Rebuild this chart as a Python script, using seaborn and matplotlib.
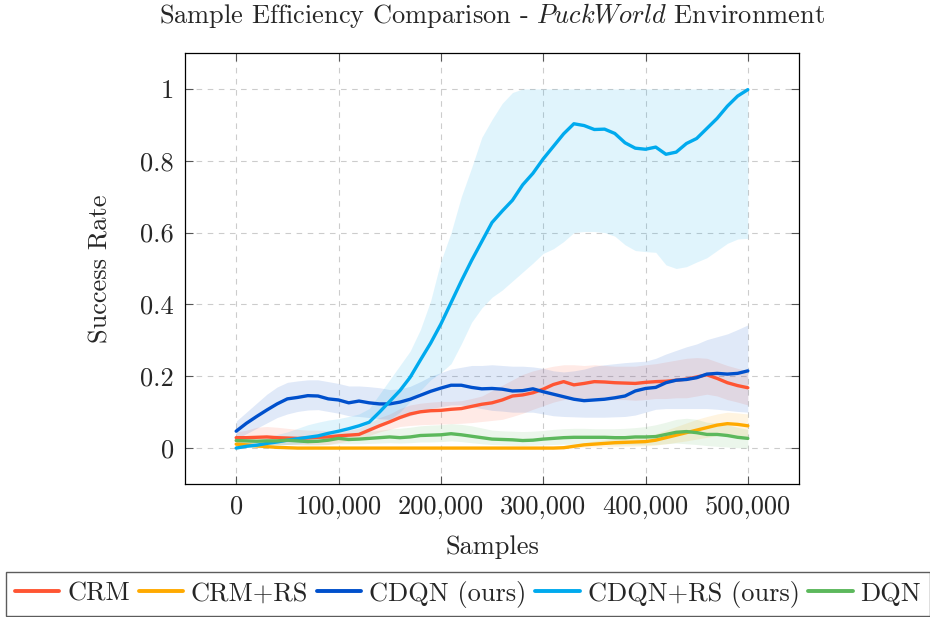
import numpy as np
import pandas as pd
import matplotlib
matplotlib.use("Agg")
import matplotlib.pyplot as plt
import seaborn as sns

# Training samples (every 10,000 steps)
samples = np.arange(0, 500001, 10000)

# Mean success rate per method
crm_mean = [0.029, 0.029, 0.030, 0.031, 0.029, 0.028, 0.027, 0.028, 0.030, 0.031,
            0.034, 0.036, 0.038, 0.050, 0.062, 0.073, 0.085, 0.095, 0.101, 0.104,
            0.105, 0.108, 0.110, 0.116, 0.122, 0.126, 0.134, 0.145, 0.148, 0.154,
            0.164, 0.177, 0.185, 0.176, 0.180, 0.185, 0.184, 0.182, 0.181, 0.180,
            0.183, 0.185, 0.186, 0.189, 0.192, 0.198, 0.204, 0.194, 0.182, 0.174,
            0.168]
crm_lo = [0.013, 0.010, 0.010, 0.010, 0.010, 0.010, 0.010, 0.010, 0.010, 0.010,
          0.015, 0.020, 0.025, 0.035, 0.045, 0.052, 0.060, 0.063, 0.065, 0.066,
          0.067, 0.068, 0.069, 0.071, 0.074, 0.077, 0.080, 0.088, 0.097, 0.108,
          0.118, 0.128, 0.135, 0.138, 0.138, 0.140, 0.138, 0.135, 0.135, 0.133,
          0.135, 0.138, 0.138, 0.140, 0.140, 0.145, 0.150, 0.145, 0.135, 0.128,
          0.120]
crm_hi = [0.045, 0.050, 0.058, 0.060, 0.058, 0.055, 0.052, 0.050, 0.050, 0.048,
          0.047, 0.050, 0.055, 0.070, 0.085, 0.095, 0.110, 0.120, 0.125, 0.128,
          0.130, 0.130, 0.132, 0.138, 0.145, 0.160, 0.175, 0.190, 0.205, 0.215,
          0.222, 0.228, 0.232, 0.232, 0.230, 0.232, 0.230, 0.228, 0.228, 0.228,
          0.232, 0.235, 0.240, 0.245, 0.250, 0.252, 0.250, 0.240, 0.230, 0.222,
          0.215]

crmrs_mean = [0.011, 0.009, 0.006, 0.004, 0.002, 0.001, 0.0, 0.0, 0.0, 0.0,
              0.0, 0.0, 0.0, 0.0, 0.0, 0.0, 0.0, 0.0, 0.0, 0.0,
              0.0, 0.0, 0.0, 0.0, 0.0, 0.0, 0.0, 0.0, 0.0, 0.0,
              0.0, 0.0, 0.001, 0.005, 0.009, 0.011, 0.013, 0.015, 0.016, 0.017,
              0.018, 0.022, 0.029, 0.036, 0.043, 0.050, 0.057, 0.064, 0.068, 0.066,
              0.062]
crmrs_lo = [0.003, 0.002, 0.0, 0.0, 0.0, 0.0, 0.0, 0.0, 0.0, 0.0,
            0.0, 0.0, 0.0, 0.0, 0.0, 0.0, 0.0, 0.0, 0.0, 0.0,
            0.0, 0.0, 0.0, 0.0, 0.0, 0.0, 0.0, 0.0, 0.0, 0.0,
            0.0, 0.0, 0.0, 0.0, 0.002, 0.003, 0.004, 0.004, 0.005, 0.005,
            0.006, 0.008, 0.012, 0.016, 0.020, 0.025, 0.030, 0.035, 0.038, 0.036,
            0.032]
crmrs_hi = [0.020, 0.017, 0.012, 0.008, 0.005, 0.003, 0.001, 0.001, 0.001, 0.001,
            0.001, 0.001, 0.001, 0.001, 0.001, 0.001, 0.001, 0.001, 0.001, 0.001,
            0.001, 0.001, 0.001, 0.001, 0.001, 0.001, 0.001, 0.001, 0.001, 0.001,
            0.001, 0.001, 0.003, 0.010, 0.015, 0.020, 0.023, 0.026, 0.028, 0.030,
            0.033, 0.040, 0.050, 0.060, 0.070, 0.080, 0.088, 0.095, 0.100, 0.098,
            0.095]

cdqn_mean = [0.047, 0.069, 0.088, 0.106, 0.123, 0.137, 0.141, 0.146, 0.145, 0.137,
             0.134, 0.126, 0.131, 0.126, 0.123, 0.123, 0.128, 0.136, 0.147, 0.158,
             0.167, 0.175, 0.175, 0.169, 0.165, 0.166, 0.164, 0.159, 0.160, 0.165,
             0.157, 0.150, 0.143, 0.136, 0.132, 0.134, 0.136, 0.140, 0.145, 0.159,
             0.166, 0.169, 0.182, 0.189, 0.191, 0.196, 0.206, 0.208, 0.206, 0.208,
             0.215]
cdqn_lo = [0.025, 0.040, 0.055, 0.070, 0.085, 0.095, 0.102, 0.106, 0.107, 0.102,
           0.097, 0.090, 0.088, 0.085, 0.082, 0.080, 0.082, 0.090, 0.100, 0.110,
           0.115, 0.120, 0.120, 0.115, 0.110, 0.105, 0.103, 0.100, 0.100, 0.100,
           0.095, 0.090, 0.088, 0.087, 0.086, 0.086, 0.086, 0.087, 0.088, 0.092,
           0.100, 0.108, 0.110, 0.110, 0.110, 0.110, 0.110, 0.108, 0.105, 0.102,
           0.100]
cdqn_hi = [0.075, 0.100, 0.125, 0.150, 0.170, 0.183, 0.187, 0.190, 0.190, 0.185,
           0.180, 0.173, 0.173, 0.171, 0.168, 0.163, 0.165, 0.172, 0.185, 0.200,
           0.210, 0.220, 0.225, 0.230, 0.230, 0.232, 0.230, 0.228, 0.228, 0.226,
           0.222, 0.215, 0.212, 0.215, 0.220, 0.228, 0.232, 0.235, 0.238, 0.240,
           0.242, 0.250, 0.262, 0.272, 0.282, 0.290, 0.302, 0.310, 0.318, 0.330,
           0.343]

cdqnrs_mean = [0.0, 0.005, 0.008, 0.013, 0.017, 0.022, 0.026, 0.030, 0.034, 0.041,
               0.047, 0.054, 0.062, 0.072, 0.100, 0.130, 0.160, 0.197, 0.245, 0.292,
               0.345, 0.405, 0.465, 0.522, 0.575, 0.628, 0.660, 0.690, 0.733, 0.765,
               0.805, 0.840, 0.875, 0.903, 0.898, 0.887, 0.888, 0.876, 0.850, 0.835,
               0.832, 0.838, 0.818, 0.824, 0.848, 0.862, 0.890, 0.918, 0.952, 0.980,
               0.998]
cdqnrs_lo = [0.0, 0.002, 0.004, 0.006, 0.008, 0.010, 0.012, 0.015, 0.020, 0.025,
             0.028, 0.032, 0.036, 0.045, 0.060, 0.080, 0.100, 0.130, 0.160, 0.190,
             0.210, 0.235, 0.290, 0.350, 0.390, 0.420, 0.440, 0.465, 0.490, 0.515,
             0.542, 0.555, 0.575, 0.600, 0.603, 0.603, 0.600, 0.590, 0.566, 0.550,
             0.547, 0.545, 0.510, 0.500, 0.505, 0.518, 0.530, 0.550, 0.570, 0.582,
             0.584]
cdqnrs_hi = [0.010, 0.015, 0.022, 0.030, 0.038, 0.045, 0.055, 0.065, 0.072, 0.078,
             0.082, 0.088, 0.095, 0.110, 0.150, 0.190, 0.230, 0.270, 0.330, 0.410,
             0.520, 0.600, 0.700, 0.780, 0.865, 0.915, 0.960, 0.990, 1.0, 1.0,
             1.0, 1.0, 1.0, 1.0, 1.0, 1.0, 1.0, 1.0, 1.0, 1.0,
             1.0, 1.0, 1.0, 1.0, 1.0, 1.0, 1.0, 1.0, 1.0, 1.0,
             1.0]

dqn_mean = [0.021, 0.020, 0.019, 0.020, 0.020, 0.022, 0.020, 0.018, 0.019, 0.022,
            0.027, 0.024, 0.025, 0.027, 0.029, 0.031, 0.029, 0.031, 0.035, 0.036,
            0.037, 0.040, 0.037, 0.033, 0.029, 0.025, 0.024, 0.023, 0.021, 0.022,
            0.025, 0.027, 0.029, 0.030, 0.030, 0.030, 0.030, 0.029, 0.029, 0.031,
            0.031, 0.032, 0.038, 0.044, 0.046, 0.043, 0.038, 0.038, 0.035, 0.030,
            0.027]
dqn_lo = [0.010, 0.010, 0.009, 0.009, 0.009, 0.010, 0.009, 0.008, 0.008, 0.010,
          0.012, 0.012, 0.012, 0.013, 0.014, 0.015, 0.014, 0.015, 0.017, 0.017,
          0.018, 0.020, 0.018, 0.015, 0.012, 0.010, 0.009, 0.008, 0.007, 0.008,
          0.009, 0.010, 0.011, 0.010, 0.010, 0.010, 0.010, 0.009, 0.009, 0.009,
          0.009, 0.010, 0.012, 0.014, 0.012, 0.010, 0.007, 0.005, 0.003, 0.001,
          0.0]
dqn_hi = [0.032, 0.031, 0.030, 0.030, 0.030, 0.032, 0.032, 0.032, 0.034, 0.038,
          0.042, 0.042, 0.044, 0.046, 0.050, 0.053, 0.055, 0.058, 0.062, 0.064,
          0.065, 0.068, 0.066, 0.062, 0.056, 0.050, 0.048, 0.047, 0.046, 0.047,
          0.049, 0.052, 0.054, 0.055, 0.055, 0.054, 0.054, 0.054, 0.055, 0.057,
          0.060, 0.065, 0.072, 0.080, 0.083, 0.080, 0.072, 0.070, 0.065, 0.058,
          0.052]

methods = ["CRM", "CRM+RS", "CDQN (ours)", "CDQN+RS (ours)", "DQN"]
colors = ["#ff5533", "#ffaa00", "#0050cc", "#00aaee", "#5cb85c"]
means = [crm_mean, crmrs_mean, cdqn_mean, cdqnrs_mean, dqn_mean]
lows = [crm_lo, crmrs_lo, cdqn_lo, cdqnrs_lo, dqn_lo]
highs = [crm_hi, crmrs_hi, cdqn_hi, cdqnrs_hi, dqn_hi]

df = pd.concat(
    [pd.DataFrame({"Samples": samples, "Success Rate": m, "Method": name})
     for name, m in zip(methods, means)],
    ignore_index=True,
)

sns.set_theme(style="white")
plt.rcParams.update({
    "font.family": ["cmr10", "DejaVu Serif"],
    "mathtext.fontset": "cm",
    "axes.unicode_minus": False,
    "axes.formatter.use_mathtext": False,
    "axes.edgecolor": "black",
    "axes.linewidth": 0.9,
})

FS = 19

fig = plt.figure(figsize=(9.3, 6.17), dpi=100)
ax = fig.add_axes([185 / 930, 1 - 484 / 617, 614 / 930, 431 / 617])

# shaded spread bands
for name, lo, hi, c in zip(methods, lows, highs, colors):
    ax.fill_between(samples, lo, hi, color=c, alpha=0.12, linewidth=0, zorder=1)

sns.lineplot(data=df, x="Samples", y="Success Rate", hue="Method",
             hue_order=methods, palette=dict(zip(methods, colors)),
             linewidth=2.4, ax=ax, legend=False, zorder=3)

ax.set_xlim(-50000, 550000)
ax.set_ylim(-0.1, 1.1)
xticks = [0, 100000, 200000, 300000, 400000, 500000]
xlabels = ["0", "100,000", "200,000", "300,000", "400,000", "500,000"]
yticks = [0, 0.2, 0.4, 0.6, 0.8, 1.0]
ylabels = ["0", "0.2", "0.4", "0.6", "0.8", "1"]
ax.set_xticks(xticks, xlabels)
ax.set_yticks(yticks, ylabels)
ax.tick_params(axis="both", direction="in", length=6, width=0.8, color="#555555",
               labelsize=FS, top=True, right=True, bottom=True, left=True, pad=8)
ax.grid(True, color="#cccccc", linestyle=(0, (5, 5)), linewidth=0.8, zorder=0)
ax.set_axisbelow(True)

ax.set_xlabel("Samples", fontsize=FS, labelpad=12)
ax.set_ylabel("Success Rate", fontsize=FS, labelpad=20)
fig.text(492 / 930, 1 - 15 / 617,
         r"Sample Efficiency Comparison - $\mathit{PuckWorld}$ Environment",
         ha="center", va="center", fontsize=FS)

handles = [plt.Line2D([], [], color=c, linewidth=2.8) for c in colors]
leg = fig.legend(handles, methods, loc="center", ncol=5,
                 bbox_to_anchor=(468 / 930, 1 - 594 / 617),
                 fontsize=FS, frameon=True, fancybox=False, edgecolor="#333333",
                 handlelength=1.68, handletextpad=0.3, columnspacing=0.33,
                 borderpad=0.32, borderaxespad=0)
leg.get_frame().set_linewidth(1.0)

fig.savefig("out.png", dpi=100)
